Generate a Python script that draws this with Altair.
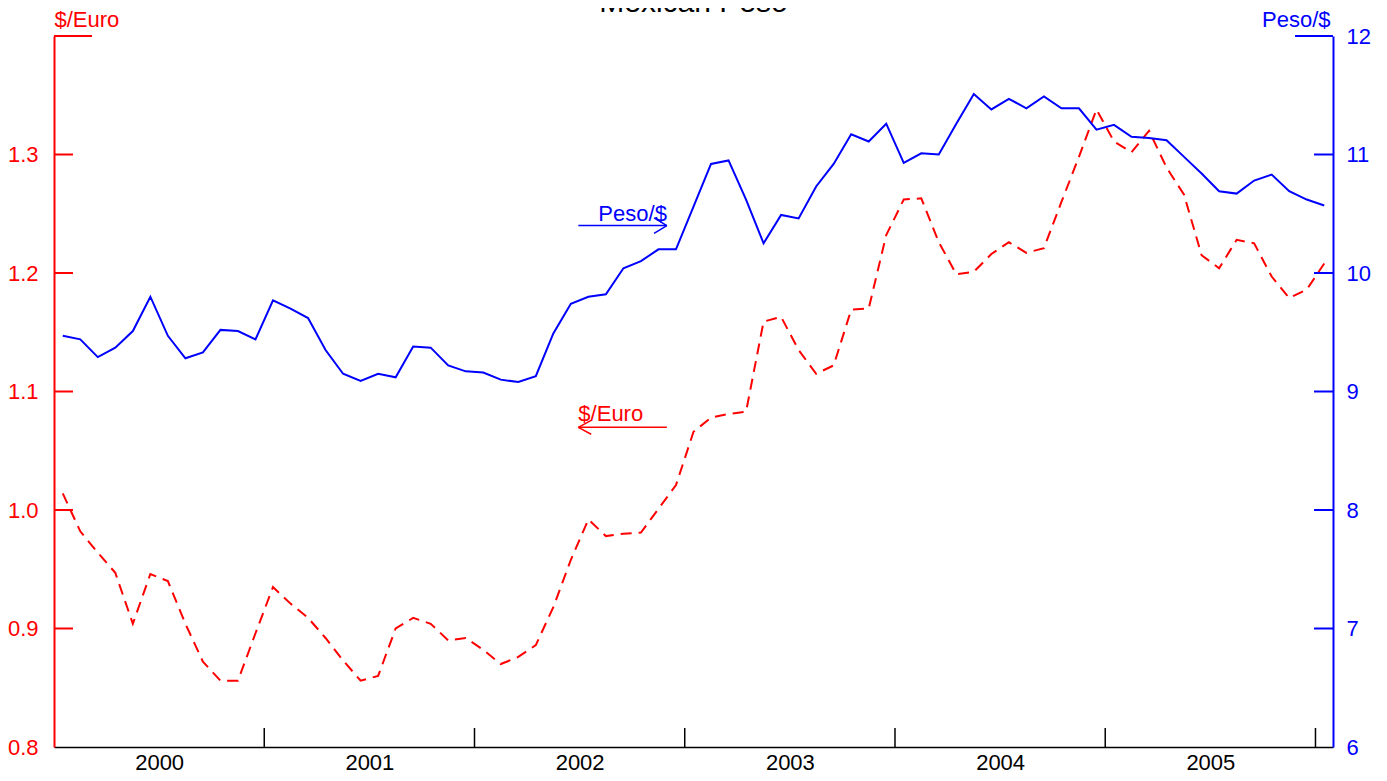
import altair as alt
import pandas as pd

# Monthly observations, Jan 2000 - Jan 2006 (plotted at mid-month, in fractional years)
start_year = 2000
n_months = 73
peso_per_dollar = [
    9.47, 9.44, 9.29, 9.37, 9.51, 9.80, 9.47, 9.28, 9.33, 9.52, 9.51, 9.44,
    9.77, 9.70, 9.62, 9.35, 9.15, 9.09, 9.15, 9.12, 9.38, 9.37, 9.22, 9.17,
    9.16, 9.10, 9.08, 9.13, 9.49, 9.74, 9.80, 9.82, 10.04, 10.10, 10.20, 10.20,
    10.56, 10.92, 10.95, 10.62, 10.25, 10.49, 10.46, 10.73, 10.92, 11.17, 11.11, 11.26,
    10.93, 11.01, 11.00, 11.26, 11.51, 11.38, 11.47, 11.39, 11.49, 11.39, 11.39, 11.21,
    11.25, 11.15, 11.14, 11.12, 10.98, 10.84, 10.69, 10.67, 10.78, 10.83, 10.69, 10.62,
    10.57,
]
dollar_per_euro = [
    1.014, 0.982, 0.964, 0.947, 0.904, 0.946, 0.940, 0.904, 0.872, 0.856, 0.856, 0.896,
    0.935, 0.921, 0.909, 0.892, 0.873, 0.856, 0.860, 0.900, 0.909, 0.904, 0.890, 0.892,
    0.882, 0.870, 0.876, 0.886, 0.918, 0.958, 0.992, 0.978, 0.980, 0.981, 1.001, 1.021,
    1.066, 1.078, 1.081, 1.083, 1.159, 1.163, 1.135, 1.115, 1.122, 1.169, 1.170, 1.232,
    1.262, 1.263, 1.226, 1.199, 1.201, 1.216, 1.226, 1.217, 1.221, 1.260, 1.298, 1.338,
    1.311, 1.302, 1.320, 1.289, 1.266, 1.215, 1.204, 1.228, 1.225, 1.197, 1.179, 1.186,
    1.208,
]
year_labels = [2000, 2001, 2002, 2003, 2004, 2005]
year_bounds = [2001, 2002, 2003, 2004, 2005, 2006]
euro_ticks = [0.9, 1.0, 1.1, 1.2, 1.3]
euro_labels = [0.8, 0.9, 1.0, 1.1, 1.2, 1.3]
euro_top = [1.4]
peso_ticks = [7, 8, 9, 10, 11]
peso_labels = [6, 7, 8, 9, 10, 11, 12]
peso_top = [12]

x_domain = [2000, 2006 + 1 / 12]
euro_domain = [0.8, 1.4]
peso_domain = [6, 12]

W, H = 1279, 711
FONT = "Liberation Sans"
FS = 22

t = [start_year + (i + 0.5) / 12 for i in range(n_months)]
df = pd.DataFrame({"t": t, "peso": peso_per_dollar, "euro": dollar_per_euro})

xs = alt.Scale(domain=x_domain, nice=False, zero=False)
ys_e = alt.Scale(domain=euro_domain, nice=False, zero=False)
ys_p = alt.Scale(domain=peso_domain, nice=False, zero=False)
no_stroke = alt.ViewBackground(stroke="transparent", strokeWidth=0)

x_axis = alt.Axis(
    values=[y + 0.5 for y in year_labels], labelExpr="floor(datum.value)",
    ticks=False, grid=False, domainColor="black", domainWidth=1.5,
    labelFont=FONT, labelFontSize=FS, labelColor="black", labelPadding=5,
    labelFlush=False, title=None,
)

base = alt.Chart(df)

# ---------------- $/Euro group (left axis, red) ----------------
euro_line = base.mark_line(color="#ff0000", strokeWidth=2, strokeDash=[11, 7]).encode(
    x=alt.X("t:Q", scale=xs, axis=x_axis),
    y=alt.Y("euro:Q", scale=ys_e, axis=alt.Axis(
        orient="left", values=euro_labels, format=".1f", ticks=False, grid=False,
        domainColor="#ff0000", domainWidth=2,
        labelFont=FONT, labelFontSize=FS, labelColor="#ff0000", labelPadding=16,
        title="$/Euro", titleAngle=0, titleX=0, titleY=-10, titleAlign="left",
        titleBaseline="alphabetic", titleColor="#ff0000", titleFont=FONT,
        titleFontSize=FS, titleFontWeight="normal",
    )),
)

euro_tick_rules = alt.Chart(pd.DataFrame({"v": euro_ticks})).mark_rule(
    color="#ff0000", strokeWidth=2).encode(
    x=alt.value(0), x2=alt.value(19), y=alt.Y("v:Q", scale=ys_e))
euro_top_rule = alt.Chart(pd.DataFrame({"v": euro_top})).mark_rule(
    color="#ff0000", strokeWidth=2).encode(
    x=alt.value(0), x2=alt.value(38), y=alt.Y("v:Q", scale=ys_e))

year_rules = alt.Chart(pd.DataFrame({"yr": year_bounds})).mark_rule(
    color="black", strokeWidth=1.5).encode(
    x=alt.X("yr:Q", scale=xs), y=alt.value(H - 19), y2=alt.value(H))

euro_arrow = pd.DataFrame({
    "x1": [2002.494, 2002.494, 2002.494],
    "x2": [2002.915, 2002.555, 2002.555],
    "y1": [1.0698, 1.0698, 1.0698],
    "y2": [1.0698, 1.0757, 1.0639],
})
euro_arrow_rules = alt.Chart(euro_arrow).mark_rule(color="#ff0000", strokeWidth=1.5).encode(
    x=alt.X("x1:Q", scale=xs), x2="x2:Q",
    y=alt.Y("y1:Q", scale=ys_e), y2="y2:Q")
euro_text = alt.Chart(pd.DataFrame({"x": [2002.494], "y": [1.0751], "s": ["$/Euro"]})).mark_text(
    color="#ff0000", font=FONT, fontSize=FS, align="left", baseline="alphabetic").encode(
    x=alt.X("x:Q", scale=xs), y=alt.Y("y:Q", scale=ys_e), text="s:N")

euro_group = alt.layer(euro_line, euro_tick_rules, euro_top_rule, year_rules,
                       euro_arrow_rules, euro_text, view=no_stroke)

# ---------------- Peso/$ group (right axis, blue) ----------------
peso_line = base.mark_line(color="#0000ff", strokeWidth=2).encode(
    x=alt.X("t:Q", scale=xs, axis=x_axis),
    y=alt.Y("peso:Q", scale=ys_p, axis=alt.Axis(
        orient="right", values=peso_labels, format="d", ticks=False, grid=False,
        domainColor="#0000ff", domainWidth=2,
        labelFont=FONT, labelFontSize=FS, labelColor="#0000ff", labelPadding=13,
        title="Peso/$", titleAngle=0, titleX=-3, titleY=-10, titleAlign="right",
        titleBaseline="alphabetic", titleColor="#0000ff", titleFont=FONT,
        titleFontSize=FS, titleFontWeight="normal",
    )),
)
peso_tick_rules = alt.Chart(pd.DataFrame({"v": peso_ticks})).mark_rule(
    color="#0000ff", strokeWidth=2).encode(
    x=alt.value(W - 19), x2=alt.value(W), y=alt.Y("v:Q", scale=ys_p))
peso_top_rule = alt.Chart(pd.DataFrame({"v": peso_top})).mark_rule(
    color="#0000ff", strokeWidth=2).encode(
    x=alt.value(W - 38), x2=alt.value(W), y=alt.Y("v:Q", scale=ys_p))

peso_arrow = pd.DataFrame({
    "x1": [2002.494, 2002.854, 2002.854],
    "x2": [2002.915, 2002.915, 2002.915],
    "y1": [10.40, 10.465, 10.335],
    "y2": [10.40, 10.40, 10.40],
})
peso_arrow_rules = alt.Chart(peso_arrow).mark_rule(color="#0000ff", strokeWidth=1.5).encode(
    x=alt.X("x1:Q", scale=xs), x2="x2:Q",
    y=alt.Y("y1:Q", scale=ys_p), y2="y2:Q")
peso_text = alt.Chart(pd.DataFrame({"x": [2002.915], "y": [10.44], "s": ["Peso/$"]})).mark_text(
    color="#0000ff", font=FONT, fontSize=FS, align="right", baseline="alphabetic").encode(
    x=alt.X("x:Q", scale=xs), y=alt.Y("y:Q", scale=ys_p), text="s:N")

# Title sits above the top edge in the reference, so only its lower part shows
title_text = alt.Chart(pd.DataFrame({"s": ["Mexican Peso"]})).mark_text(
    color="black", font=FONT, fontSize=30, align="center", baseline="alphabetic").encode(
    x=alt.value(W / 2), y=alt.value(-24), text="s:N")

peso_group = alt.layer(peso_line, peso_tick_rules, peso_top_rule,
                       peso_arrow_rules, peso_text, title_text, view=no_stroke)

chart = (
    alt.layer(euro_group, peso_group, view=no_stroke)
    .resolve_scale(y="independent")
    .properties(
        width=W, height=H,
        autosize=alt.AutoSizeParams(type="none"),
        padding={"left": 46, "top": 28, "right": 46, "bottom": 32},
    )
    .configure_view(strokeWidth=0, stroke="transparent")
    .configure_axis(grid=False)
    .configure(background="white")
)

chart.save("out.html", embed_options={"renderer": "svg", "actions": False})
